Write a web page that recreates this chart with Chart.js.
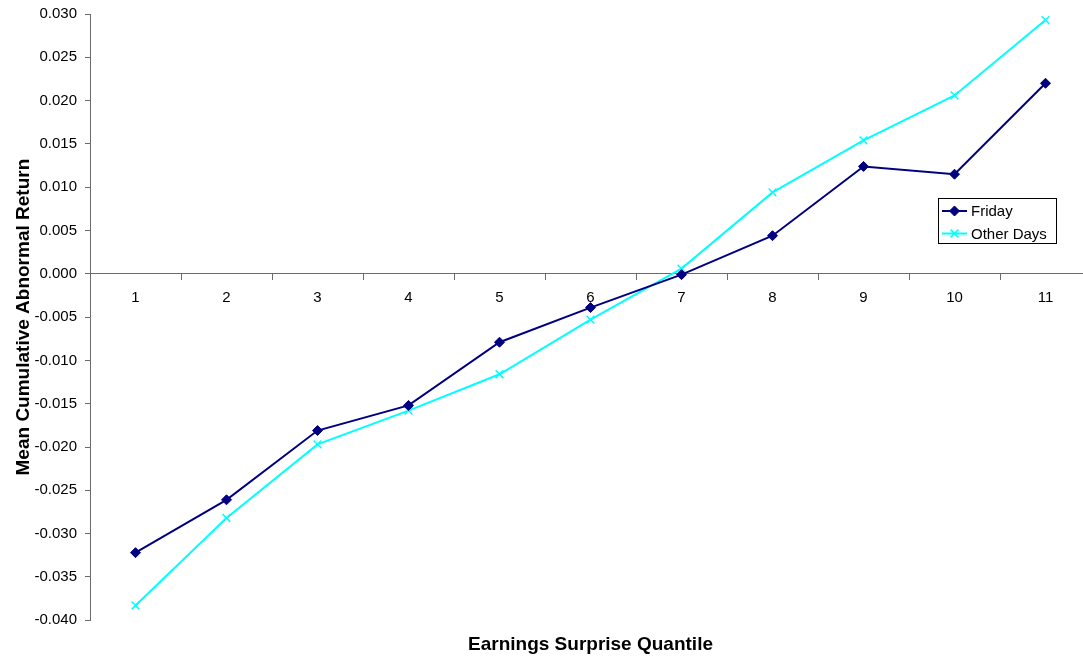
<!DOCTYPE html>
<html>
<head>
<meta charset="utf-8">
<title>Mean Cumulative Abnormal Return by Earnings Surprise Quantile</title>
<script src="https://cdn.jsdelivr.net/npm/chart.js@4.4.0/dist/chart.umd.min.js"></script>
<style>
  html, body { margin: 0; padding: 0; background: #fff; overflow: hidden; }
  /* the original plot runs a few pixels past the right edge of the picture */
  #wrap { width: 1098px; height: 658px; }
</style>
</head>
<body>
<div id="wrap"><canvas id="chart"></canvas></div>
<script>
// data
const quantiles = ['1', '2', '3', '4', '5', '6', '7', '8', '9', '10', '11'];
const friday = [-0.0322, -0.0261, -0.0181, -0.0152, -0.0079, -0.0039, -0.0001, 0.0044, 0.0124, 0.0115, 0.0220];
const otherDays = [-0.0383, -0.0282, -0.0197, -0.0158, -0.0116, -0.0053, 0.0006, 0.0094, 0.0154, 0.0206, 0.0293];
const yMin = -0.040;
const yMax = 0.030;
const yStep = 0.005;

const FONT = '"Liberation Sans", Arial, sans-serif';
const AXIS_COLOR = '#6b6b6b';

// boxed legend sitting inside the plot, like the original
const legendBox = {
  id: 'legendBox',
  afterDraw(chart) {
    const ctx = chart.ctx;
    const left = 938, top = 198, w = 118, h = 45;
    ctx.save();
    ctx.fillStyle = '#fff';
    ctx.fillRect(left, top, w, h);
    ctx.strokeStyle = '#000';
    ctx.lineWidth = 1;
    ctx.strokeRect(left + 0.5, top + 0.5, w, h);
    ctx.font = '15px ' + FONT;
    ctx.textBaseline = 'middle';
    chart.data.datasets.forEach((ds, i) => {
      const y = top + 13 + i * 22.5;
      ctx.strokeStyle = ds.borderColor;
      ctx.lineWidth = 2;
      ctx.beginPath();
      ctx.moveTo(left + 4, y);
      ctx.lineTo(left + 29, y);
      ctx.stroke();
      ctx.fillStyle = ds.pointBackgroundColor;
      ctx.strokeStyle = ds.pointBorderColor;
      ctx.lineWidth = ds.pointBorderWidth;
      Chart.helpers.drawPoint(ctx, {
        pointStyle: ds.pointStyle,
        radius: ds.pointRadius,
        borderWidth: ds.pointBorderWidth,
        rotation: 0
      }, left + 16.5, y);
      ctx.fillStyle = '#000';
      ctx.fillText(ds.label, left + 33, y + 1);
    });
    ctx.restore();
  }
};

const ctx = document.getElementById('chart').getContext('2d');
new Chart(ctx, {
  type: 'line',
  data: {
    labels: quantiles,
    datasets: [{
      label: 'Friday',
      data: friday,
      borderColor: '#000080',
      backgroundColor: '#000080',
      borderWidth: 2,
      pointStyle: 'rectRot',
      pointRadius: 5,
      pointBackgroundColor: '#000080',
      pointBorderColor: '#000080',
      pointBorderWidth: 1,
      tension: 0
    }, {
      label: 'Other Days',
      data: otherDays,
      borderColor: '#00ffff',
      backgroundColor: '#00ffff',
      borderWidth: 2,
      pointStyle: 'crossRot',
      pointRadius: 5.5,
      pointBackgroundColor: '#00ffff',
      pointBorderColor: '#00ffff',
      pointBorderWidth: 1.5,
      tension: 0
    }]
  },
  options: {
    responsive: true,
    maintainAspectRatio: false,
    animation: false,
    layout: { padding: { top: 14, right: 0, bottom: 0, left: 0 } },
    plugins: {
      legend: { display: false },
      tooltip: { enabled: false },
      title: {
        display: true,
        fullSize: false,
        position: 'bottom',
        text: 'Earnings Surprise Quantile',
        color: '#000',
        font: { family: FONT, size: 19, weight: 'bold' },
        padding: { top: 13, bottom: 2 }
      }
    },
    scales: {
      x: {
        type: 'category',
        position: { y: 0 },
        offset: true,
        grid: {
          display: true,
          drawOnChartArea: false,
          drawTicks: true,
          tickLength: 6,
          offset: true,
          color: AXIS_COLOR
        },
        border: { display: true, color: AXIS_COLOR, width: 1 },
        ticks: {
          color: '#000',
          font: { family: FONT, size: 15 },
          padding: 9,
          maxRotation: 0,
          autoSkip: false
        },
        afterFit: scale => { scale.paddingLeft = 0; scale.paddingRight = 0; }
      },
      y: {
        min: yMin,
        max: yMax,
        grid: {
          display: true,
          drawOnChartArea: false,
          drawTicks: true,
          tickLength: 5,
          color: AXIS_COLOR
        },
        border: { display: true, color: AXIS_COLOR, width: 1 },
        ticks: {
          stepSize: yStep,
          color: '#000',
          font: { family: FONT, size: 15 },
          padding: 8,
          callback: v => (Math.abs(v) < 1e-9 ? 0 : v).toFixed(3)
        },
        title: {
          display: true,
          text: 'Mean Cumulative Abnormal Return',
          color: '#000',
          font: { family: FONT, size: 19, weight: 'bold' },
          padding: { top: 12, bottom: 0 }
        },
        afterFit: scale => { scale.width = 90; scale.paddingTop = 0; scale.paddingBottom = 0; }
      }
    }
  },
  plugins: [legendBox]
});
</script>
</body>
</html>
